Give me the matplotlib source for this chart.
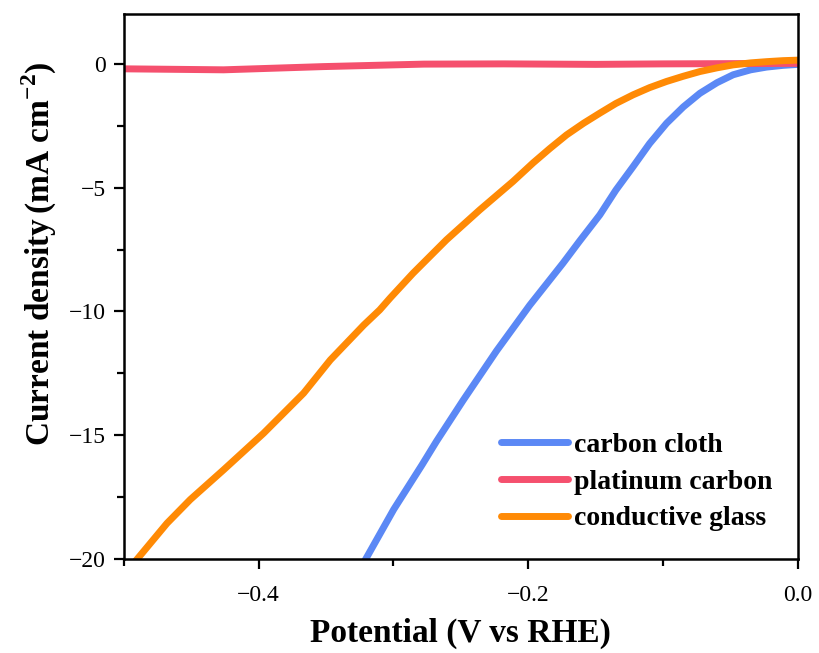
import numpy as np
import matplotlib.pyplot as plt
from matplotlib.ticker import MultipleLocator, FuncFormatter

plt.rcParams['font.family'] = ['Liberation Serif', 'DejaVu Serif']
plt.rcParams['mathtext.fontset'] = 'custom'
plt.rcParams['mathtext.rm'] = 'Liberation Serif'
plt.rcParams['mathtext.bf'] = 'Liberation Serif:bold'

# LSV curves, potential (V vs RHE) and current density (mA cm^-2)
cloth_v = [-0.3205, -0.2998, -0.2788, -0.2681, -0.2484, -0.2236, -0.1989,
           -0.1742, -0.1618, -0.1469, -0.135, -0.1222, -0.110, -0.0974, -0.085,
           -0.0727, -0.060, -0.048, -0.035, -0.0232, -0.011, 0.0]
cloth_j = [-20.0, -18.0, -16.2, -15.25, -13.6, -11.6, -9.75,
           -8.05, -7.15, -6.1, -5.1, -4.15, -3.22, -2.40, -1.74,
           -1.19, -0.76, -0.44, -0.24, -0.13, -0.06, -0.02]

pt_v = [-0.5, -0.426, -0.352, -0.2775, -0.218, -0.15, -0.10, -0.05, 0.0]
pt_j = [-0.2, -0.24, -0.11, -0.01, 0.0, -0.02, 0.0, 0.01, 0.02]

glass_v = [-0.490, -0.468, -0.4507, -0.426, -0.3963, -0.3666, -0.3468, -0.322, -0.3102,
           -0.3023, -0.2855, -0.2607, -0.236, -0.2113, -0.1964, -0.184, -0.1716,
           -0.159, -0.1469, -0.135, -0.1222, -0.110, -0.0974, -0.085, -0.0727,
           -0.060, -0.048, -0.035, -0.023, -0.011, 0.0]
glass_j = [-20.0, -18.56, -17.6, -16.4, -14.92, -13.3, -11.96, -10.55, -9.94,
           -9.45, -8.46, -7.11, -5.9, -4.75, -4.0, -3.42, -2.87,
           -2.4, -1.99, -1.6, -1.25, -0.96, -0.71, -0.5, -0.31,
           -0.16, -0.04, 0.04, 0.09, 0.13, 0.15]

fig, ax = plt.subplots(figsize=(8.2, 6.53), dpi=100)
fig.subplots_adjust(left=0.151, right=0.973, top=0.978, bottom=0.144)

ax.plot(cloth_v, cloth_j, color='#5b88f5', lw=5, label='carbon cloth')
ax.plot(pt_v, pt_j, color='#f5506e', lw=5, label='platinum carbon')
ax.plot(glass_v, glass_j, color='#ff8a05', lw=5, label='conductive glass')

ax.set_xlim(-0.5, 0.0)
ax.set_ylim(-20, 2)
ax.xaxis.set_major_locator(MultipleLocator(0.2))
ax.xaxis.set_minor_locator(MultipleLocator(0.1))
ax.yaxis.set_major_locator(MultipleLocator(5))
ax.yaxis.set_minor_locator(MultipleLocator(2.5))
ax.xaxis.set_major_formatter(FuncFormatter(lambda v, p: f'{v:.1f}'.replace('-', '\u2212')))
ax.yaxis.set_major_formatter(FuncFormatter(lambda v, p: f'{v:.0f}'.replace('-', '\u2212')))

ax.tick_params(which='major', direction='out', length=7, width=1.6, labelsize=17, pad=6)
ax.tick_params(which='minor', direction='out', length=5, width=1.6)
ax.tick_params(axis='x', pad=12)
for s in ax.spines.values():
    s.set_linewidth(1.8)

ax.set_xlabel('Potential (V vs RHE)', fontsize=24, fontweight='bold', labelpad=8)
ax.set_ylabel(r'Current density$\,$(mA cm$^{\mathbf{-2}}$)', fontsize=24, fontweight='bold')
ax.yaxis.set_label_coords(-0.096, 0.56)

leg = ax.legend(loc='lower right', frameon=False, prop={'weight': 'bold', 'size': 20},
                handlelength=2.4, handletextpad=0.25, labelspacing=0.4,
                bbox_to_anchor=(1.0, 0.005))
for line in leg.get_lines():
    line.set_solid_capstyle('round')

fig.savefig('out.png', dpi=100)
